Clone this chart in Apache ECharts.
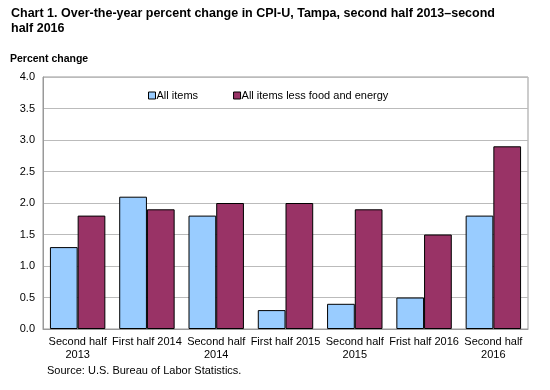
<!DOCTYPE html>
<html><head><meta charset="utf-8">
<script src="https://cdn.jsdelivr.net/npm/echarts@6/dist/echarts.min.js"></script>
<style>html,body{margin:0;padding:0;background:#fff}#c{width:550px;height:390px}</style>
</head><body><div id="c"></div>
<script>
const categories = ['Second half\n2013','First half 2014','Second half\n2014','First half 2015','Second half\n2015','Frist half 2016','Second half\n2016'];
const allItems = [1.3, 2.1, 1.8, 0.3, 0.4, 0.5, 1.8];
const coreItems = [1.8, 1.9, 2.0, 2.0, 1.9, 1.5, 2.9];
const seriesNames = ['All items', 'All items less food and energy'];
const font = 'Liberation Sans, Arial, sans-serif';
const chart = echarts.init(document.getElementById('c'));
chart.setOption({
  animation: false,
  textStyle: {fontFamily: font},
  title: [
    {text: 'Chart 1. Over-the-year percent change in CPI-U, Tampa, second half 2013\u2013second\nhalf 2016', left: 11, top: 6, padding: 0,
     textStyle: {fontSize: 12.5, fontWeight: 'bold', color: '#000', lineHeight: 15, fontFamily: font}},
    {text: 'Percent change', left: 10, top: 54, padding: 0, textStyle: {fontSize: 10.5, fontWeight: 'bold', color: '#000', fontFamily: font}},
    {text: 'Source: U.S. Bureau of Labor Statistics.', left: 47, top: 365, padding: 0, textStyle: {fontSize: 11, fontWeight: 'normal', color: '#000', fontFamily: font}}
  ],
  legend: {
    top: 90, left: 148, padding: 0, itemWidth: 7, itemHeight: 7, itemGap: 35,
    icon: 'rect',
    itemStyle: {borderColor: '#000', borderWidth: 1},
    textStyle: {fontSize: 11, color: '#000', fontFamily: font, padding: [0,0,0,-4]},
    data: seriesNames
  },
  grid: {left: 43, right: 22, top: 77, bottom: 61, containLabel: false, show: true, borderColor: '#999', borderWidth: 1},
  xAxis: {
    type: 'category', data: categories,
    axisLine: {lineStyle: {color: '#999'}},
    axisTick: {show: false},
    axisLabel: {color: '#000', fontSize: 11, interval: 0, lineHeight: 13, margin: 6, fontFamily: font}
  },
  yAxis: {
    type: 'value', min: 0, max: 4, interval: 0.5,
    axisLine: {show: true, lineStyle: {color: '#999'}},
    axisTick: {show: false},
    splitLine: {lineStyle: {color: '#bbb'}},
    axisLabel: {color: '#000', fontSize: 11, margin: 8, formatter: v => v.toFixed(1), fontFamily: font}
  },
  series: [
    {name: seriesNames[0], type: 'bar', data: allItems, barGap: '0%', barCategoryGap: '20%',
     itemStyle: {color: '#99CCFF', borderColor: '#000', borderWidth: 1}},
    {name: seriesNames[1], type: 'bar', data: coreItems,
     itemStyle: {color: '#993366', borderColor: '#000', borderWidth: 1}}
  ]
});
</script></body></html>
